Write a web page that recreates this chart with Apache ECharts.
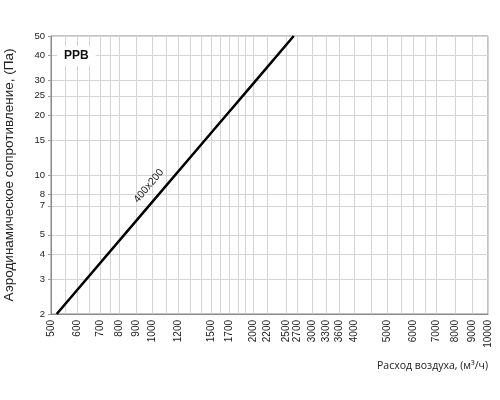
<!DOCTYPE html>
<html>
<head>
<meta charset="utf-8">
<script src="https://cdn.jsdelivr.net/npm/echarts@6/dist/echarts.min.js"></script>
<style>html,body{margin:0;padding:0;background:#fff}#c{width:500px;height:400px}</style>
</head>
<body>
<div id="c"></div>
<script>
// Air flow (m³/h) vs pressure drop (Pa), model 400x200
var seriesName = '400x200';
var flowValues = [520, 1000, 1500, 2000, 2640];
var pressureValues = [2, 7.3, 16.3, 28.8, 50];
var xLabelValues = [500, 600, 700, 800, 900, 1000, 1200, 1500, 1700, 2000, 2200, 2500, 2700, 3000, 3300, 3600, 4000, 5000, 6000, 7000, 8000, 9000, 10000];
var xGridValues = [500, 550, 600, 650, 700, 750, 800, 900, 1000, 1100, 1200, 1300, 1400, 1500, 1600, 1700, 1800, 1900, 2000, 2200, 2500, 2700, 3000, 3300, 3600, 4000, 4500, 5000, 5500, 6000, 6500, 7000, 8000, 9000, 10000];
var yLabelValues = [2, 3, 4, 5, 7, 8, 10, 15, 20, 25, 30, 40, 50];
var labelIndex = 1;

var data = flowValues.map(function (q, i) {
  var item = { value: [q, pressureValues[i]] };
  if (i === labelIndex) {
    item.label = {
      show: true, formatter: seriesName, position: 'top', distance: 7, rotate: 50, offset: [5, -3],
      fontFamily: 'Liberation Sans', fontSize: 10.5, color: '#222'
    };
  }
  return item;
});

var chart = echarts.init(document.getElementById('c'), null, { renderer: 'canvas' });
chart.setOption({
  animation: false,
  title: {
    text: 'PPB', left: 57, top: 46, padding: [4, 7, 4, 7], backgroundColor: '#fff',
    textStyle: { fontFamily: 'Liberation Sans', fontSize: 12, fontWeight: 'bold', color: '#111' }
  },
  grid: {
    left: 51, right: 12, top: 36, bottom: 86, show: true, borderColor: '#888', borderWidth: 1,
    containLabel: false, outerBoundsMode: 'none'
  },
  xAxis: {
    type: 'log', logBase: 10, min: 500, max: 10000,
    name: 'Расход воздуха, (м³/ч)', nameLocation: 'end', nameGap: 0,
    nameTextStyle: { fontFamily: 'Open Sans', fontSize: 10.5, color: '#222', align: 'right', verticalAlign: 'top', padding: [47, 0, 0, 0] },
    axisLine: { show: true, lineStyle: { color: '#888', width: 1 } },
    axisTick: { show: false, customValues: xGridValues },
    axisLabel: {
      customValues: xLabelValues, rotate: 90, margin: 6, interval: 0,
      fontFamily: 'Liberation Sans', fontSize: 10, color: '#222',
      formatter: function (v) { return String(Math.round(v)); }
    },
    splitLine: { show: true, lineStyle: { color: '#d4d4d4', width: 1 } },
    minorTick: { show: false }, minorSplitLine: { show: false }
  },
  yAxis: {
    type: 'log', logBase: 10, min: 2, max: 50,
    name: 'Аэродинамическое сопротивление, (Па)', nameLocation: 'middle', nameGap: 35,
    nameTextStyle: { fontFamily: 'Liberation Sans', fontSize: 13.5, color: '#222' },
    axisLine: { show: true, lineStyle: { color: '#888', width: 1 } },
    axisTick: { show: true, length: 3, customValues: yLabelValues, lineStyle: { color: '#999' } },
    axisLabel: {
      customValues: yLabelValues, margin: 6, interval: 0,
      fontFamily: 'Liberation Sans', fontSize: 9.5, color: '#222',
      formatter: function (v) { return String(Math.round(v)); }
    },
    splitLine: { show: true, lineStyle: { color: '#d4d4d4', width: 1 } }
  },
  series: [{
    name: seriesName, type: 'line', data: data, showSymbol: true, symbol: 'circle', symbolSize: 0,
    itemStyle: { color: '#000' },
    lineStyle: { color: '#000', width: 2.5 }, z: 5
  }]
});
</script>
</body>
</html>
